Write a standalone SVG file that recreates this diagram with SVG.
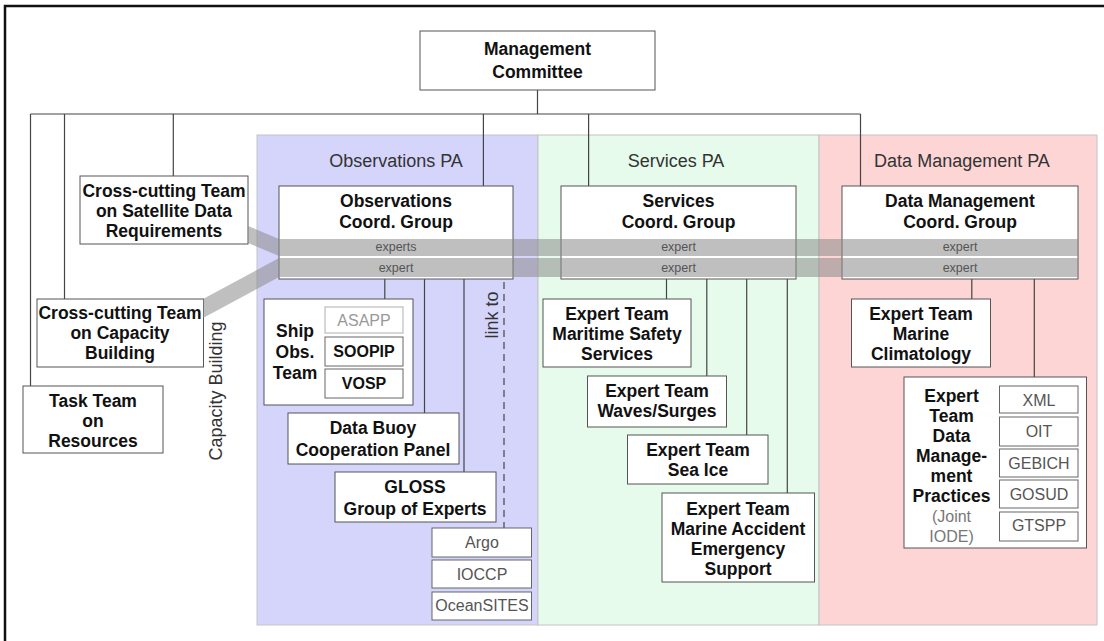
<svg xmlns="http://www.w3.org/2000/svg" width="1104" height="641" viewBox="0 0 1104 641">
<style>
.pa{stroke:#c4c4c4;stroke-width:1}
.box{fill:#fff;stroke:#555;stroke-width:1}
.sub{fill:#fff;stroke:#666;stroke-width:1}
.subl{fill:#fff;stroke:#b0b0b0;stroke-width:1}
.c{stroke:#444;stroke-width:1.2;fill:none}
.b{font-family:"Liberation Sans",Arial,sans-serif;font-weight:bold;font-size:17.5px;fill:#111;text-anchor:middle}
.bb{font-family:"Liberation Sans",Arial,sans-serif;font-weight:bold;font-size:16px;fill:#111;text-anchor:middle}
.lab{font-family:"Liberation Sans",Arial,sans-serif;font-size:18px;fill:#333;text-anchor:middle}
.r{font-family:"Liberation Sans",Arial,sans-serif;font-size:16px;fill:#555;text-anchor:middle}
.rl{font-family:"Liberation Sans",Arial,sans-serif;font-size:16px;fill:#999;text-anchor:middle}
.bt{font-family:"Liberation Sans",Arial,sans-serif;font-size:12.5px;fill:#555;text-anchor:middle}
.band{fill:#8a8a8a;fill-opacity:0.55}
</style>
<rect width="1104" height="641" fill="#fff"/>
<path d="M5,641 V6 H1104" stroke="#111" stroke-width="2.5" fill="none"/>

<g id="areas">
<rect class="pa" x="257" y="135" width="281" height="490" fill="#d5d5fc"/>
<rect class="pa" x="538" y="135" width="281" height="490" fill="#e7fbec"/>
<rect class="pa" x="819" y="135" width="278" height="490" fill="#fdd5d5"/>
<text class="lab" x="396" y="167">Observations PA</text>
<text class="lab" x="676" y="167">Services PA</text>
<text class="lab" x="962" y="167">Data Management PA</text>
<text class="lab" x="217" y="391" transform="rotate(-90 217 391)" dominant-baseline="middle">Capacity Building</text>
<text class="lab" x="493" y="315" transform="rotate(-90 493 315)" dominant-baseline="middle">link to</text>
</g>

<g id="connectors">
<path class="c" d="M537.5,90 V114 M30.5,114 H860.5 M30.5,114 V386 M64.5,114 V299 M173.3,114 V176 M483.4,114 V186 M588.6,114 V186 M860.5,114 V186"/>
<path class="c" d="M384.8,279 V299 M424.5,279 V413 M464,279 V472"/>
<path class="c" d="M504,282 V528" stroke-dasharray="7,5"/>
<path class="c" d="M666.5,279 V299 M706.8,279 V376 M746.7,279 V435 M787.3,279 V493"/>
<path class="c" d="M971.8,279 V299 M1034.3,279 V377"/>
</g>

<g id="mc">
<rect class="box" x="420" y="31" width="235" height="59"/>
<text class="b" x="537.5" y="55">Management</text>
<text class="b" x="537.5" y="78">Committee</text>
</g>

<g id="sat">
<rect class="box" x="80" y="176" width="168" height="68"/>
<text class="b" x="164" y="197">Cross-cutting Team</text>
<text class="b" x="164" y="217">on Satellite Data</text>
<text class="b" x="164" y="237">Requirements</text>
</g>

<g id="cap">
<rect class="box" x="37" y="299" width="166.5" height="68"/>
<text class="b" x="120" y="319">Cross-cutting Team</text>
<text class="b" x="120" y="339">on Capacity</text>
<text class="b" x="120" y="359">Building</text>
</g>

<g id="task">
<rect class="box" x="23" y="386" width="140" height="67"/>
<text class="b" x="93" y="407">Task Team</text>
<text class="b" x="93" y="427">on</text>
<text class="b" x="93" y="447">Resources</text>
</g>

<g id="obs">
<rect class="box" x="279" y="186" width="234" height="93"/>
<text class="b" x="396" y="207">Observations</text>
<text class="b" x="396" y="228">Coord. Group</text>
</g>

<g id="serv">
<rect class="box" x="561" y="186" width="235" height="93"/>
<text class="b" x="678.5" y="207">Services</text>
<text class="b" x="678.5" y="228">Coord. Group</text>
</g>

<g id="dm">
<rect class="box" x="842" y="186" width="236" height="93"/>
<text class="b" x="960" y="207">Data Management</text>
<text class="b" x="960" y="228">Coord. Group</text>
</g>

<g id="bands">
<path class="band" d="M248,226 L279,239 H1078 V256 H279 L248,243 Z"/>
<path class="band" d="M203,299 L279,258 H1078 V277 H279 L203,318 Z"/>
<text class="bt" x="396" y="251">experts</text>
<text class="bt" x="396" y="272">expert</text>
<text class="bt" x="678.5" y="251">expert</text>
<text class="bt" x="678.5" y="272">expert</text>
<text class="bt" x="960" y="251">expert</text>
<text class="bt" x="960" y="272">expert</text>
</g>

<g id="ship">
<rect class="box" x="264" y="299" width="149" height="106"/>
<text class="b" x="295" y="337">Ship</text>
<text class="b" x="295" y="358">Obs.</text>
<text class="b" x="295" y="379">Team</text>
</g>
<g id="asapp">
<rect class="subl" x="325" y="307" width="78" height="26"/>
<text class="rl" x="364" y="326">ASAPP</text>
</g>
<g id="soopip">
<rect class="sub" x="325" y="337" width="78" height="29"/>
<text class="bb" x="364" y="357">SOOPIP</text>
</g>
<g id="vosp">
<rect class="sub" x="325" y="369" width="78" height="29"/>
<text class="bb" x="364" y="389">VOSP</text>
</g>

<g id="dbcp">
<rect class="box" x="288" y="413" width="171" height="51"/>
<text class="b" x="373" y="434">Data Buoy</text>
<text class="b" x="373" y="456">Cooperation Panel</text>
</g>

<g id="gloss">
<rect class="box" x="335" y="472" width="161" height="50"/>
<text class="b" x="415" y="493">GLOSS</text>
<text class="b" x="415" y="515">Group of Experts</text>
</g>

<g id="argo">
<rect class="sub" x="432" y="528" width="99.5" height="29"/>
<text class="r" x="482" y="548">Argo</text>
</g>
<g id="ioccp">
<rect class="sub" x="432" y="560" width="99.5" height="28"/>
<text class="r" x="482" y="580">IOCCP</text>
</g>
<g id="oceansites">
<rect class="sub" x="432" y="592" width="99.5" height="28"/>
<text class="r" x="482" y="611">OceanSITES</text>
</g>

<g id="etmss">
<rect class="box" x="543" y="299" width="148" height="68"/>
<text class="b" x="617" y="320">Expert Team</text>
<text class="b" x="617" y="340">Maritime Safety</text>
<text class="b" x="617" y="360">Services</text>
</g>

<g id="etws">
<rect class="box" x="587.5" y="376" width="139" height="51"/>
<text class="b" x="657" y="397">Expert Team</text>
<text class="b" x="657" y="417">Waves/Surges</text>
</g>

<g id="etsi">
<rect class="box" x="627.5" y="435" width="140.5" height="49"/>
<text class="b" x="698" y="456">Expert Team</text>
<text class="b" x="698" y="476">Sea Ice</text>
</g>

<g id="etmaes">
<rect class="box" x="662" y="493" width="152.5" height="89"/>
<text class="b" x="738" y="515">Expert Team</text>
<text class="b" x="738" y="535">Marine Accident</text>
<text class="b" x="738" y="555">Emergency</text>
<text class="b" x="738" y="575">Support</text>
</g>

<g id="etmc">
<rect class="box" x="851.5" y="299" width="139" height="68"/>
<text class="b" x="921" y="320">Expert Team</text>
<text class="b" x="921" y="340">Marine</text>
<text class="b" x="921" y="360">Climatology</text>
</g>

<g id="etdmp">
<rect class="box" x="904" y="377" width="182.5" height="171"/>
<text class="b" x="951.5" y="402">Expert</text>
<text class="b" x="951.5" y="422">Team</text>
<text class="b" x="951.5" y="442">Data</text>
<text class="b" x="951.5" y="462">Manage-</text>
<text class="b" x="951.5" y="482">ment</text>
<text class="b" x="951.5" y="502">Practices</text>
<text class="r" x="951.5" y="522" style="fill:#777">(Joint</text>
<text class="r" x="951.5" y="542" style="fill:#777">IODE)</text>
</g>
<g id="xml">
<rect class="sub" x="999.5" y="386" width="78.5" height="27"/>
<text class="r" x="1039" y="406">XML</text>
</g>
<g id="oit">
<rect class="sub" x="999.5" y="417" width="78.5" height="29"/>
<text class="r" x="1039" y="437">OIT</text>
</g>
<g id="gebich">
<rect class="sub" x="999.5" y="449" width="78.5" height="28"/>
<text class="r" x="1039" y="469">GEBICH</text>
</g>
<g id="gosud">
<rect class="sub" x="999.5" y="480" width="78.5" height="28"/>
<text class="r" x="1039" y="500">GOSUD</text>
</g>
<g id="gtspp">
<rect class="sub" x="999.5" y="512" width="78.5" height="29"/>
<text class="r" x="1039" y="531">GTSPP</text>
</g>
</svg>
